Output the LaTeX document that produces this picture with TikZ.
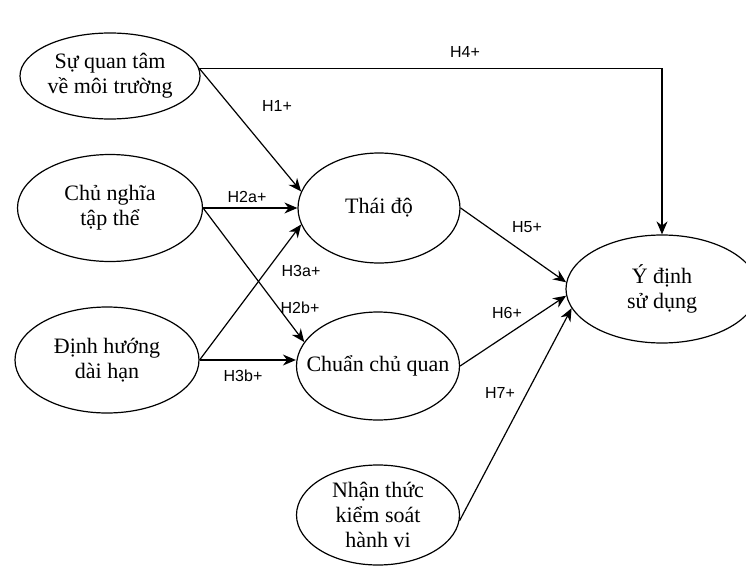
\documentclass[tikz,border=0pt]{standalone}
\usepackage{fontspec}
\setmainfont{Liberation Serif}
\newfontfamily\labfont{Liberation Sans}
\usetikzlibrary{arrows.meta,shapes.geometric}
\begin{document}
\begin{tikzpicture}[x=1pt,y=-1pt,
  construct/.style={draw,ellipse,line width=1.2pt,inner sep=0pt,align=center,
    font=\fontsize{22}{25}\selectfont},
  link/.style={line width=1.2pt,-{Stealth[length=13pt,width=11pt]}},
  hlabel/.style={font=\labfont\fontsize{16}{18}\selectfont,inner sep=0pt}]
\useasboundingbox (0,0) rectangle (746,567);
\clip (0,0) rectangle (746,567);
\node[construct,minimum width=180pt,minimum height=86pt] (s1) at (110,76) {Sự quan tâm\\về môi trường};
\node[construct,minimum width=185pt,minimum height=107pt] (c) at (110,208) {Chủ nghĩa\\tập thể};
\node[construct,minimum width=184pt,minimum height=106pt] (d) at (107,360) {Định hướng\\dài hạn};
\node[construct,minimum width=162pt,minimum height=110pt] (t) at (379,208) {Thái độ};
\node[construct,inner xsep=-40pt,minimum width=163pt,minimum height=108pt] (cq) at (378,366) {Chuẩn chủ quan};
\node[construct,minimum width=163pt,minimum height=100pt] (n) at (378,515) {Nhận thức\\kiểm soát\\hành vi};
\node[construct,minimum width=192pt,minimum height=108pt] (y) at (662,289) {Ý định\\sử dụng};
\draw[link] (s1.5) -| (y.north);
\draw[link] (s1.5) -- (t.168);
\draw[link] (c.east) -- (t.west);
\draw[link] (c.east) -- (cq.162);
\draw[link] (d.east) -- (t.192);
\draw[link] (d.east) -- (d.east -| cq.west);
\draw[link] (t.east) -- (y.176);
\draw[link] (cq.east) -- (y.184);
\draw[link] (n.-4) -- (y.192);
\node[hlabel] (l4) at (465,52) {H4+};
\node[hlabel] (l1) at (277,106) {H1+};
\node[hlabel] (l2a) at (247,197) {H2a+};
\node[hlabel] (l3a) at (301,271) {H3a+};
\node[hlabel] (l2b) at (300,308) {H2b+};
\node[hlabel] (l3b) at (243,376) {H3b+};
\node[hlabel] (l5) at (527,227) {H5+};
\node[hlabel] (l6) at (507,313) {H6+};
\node[hlabel] (l7) at (500,393) {H7+};
\end{tikzpicture}
\end{document}
